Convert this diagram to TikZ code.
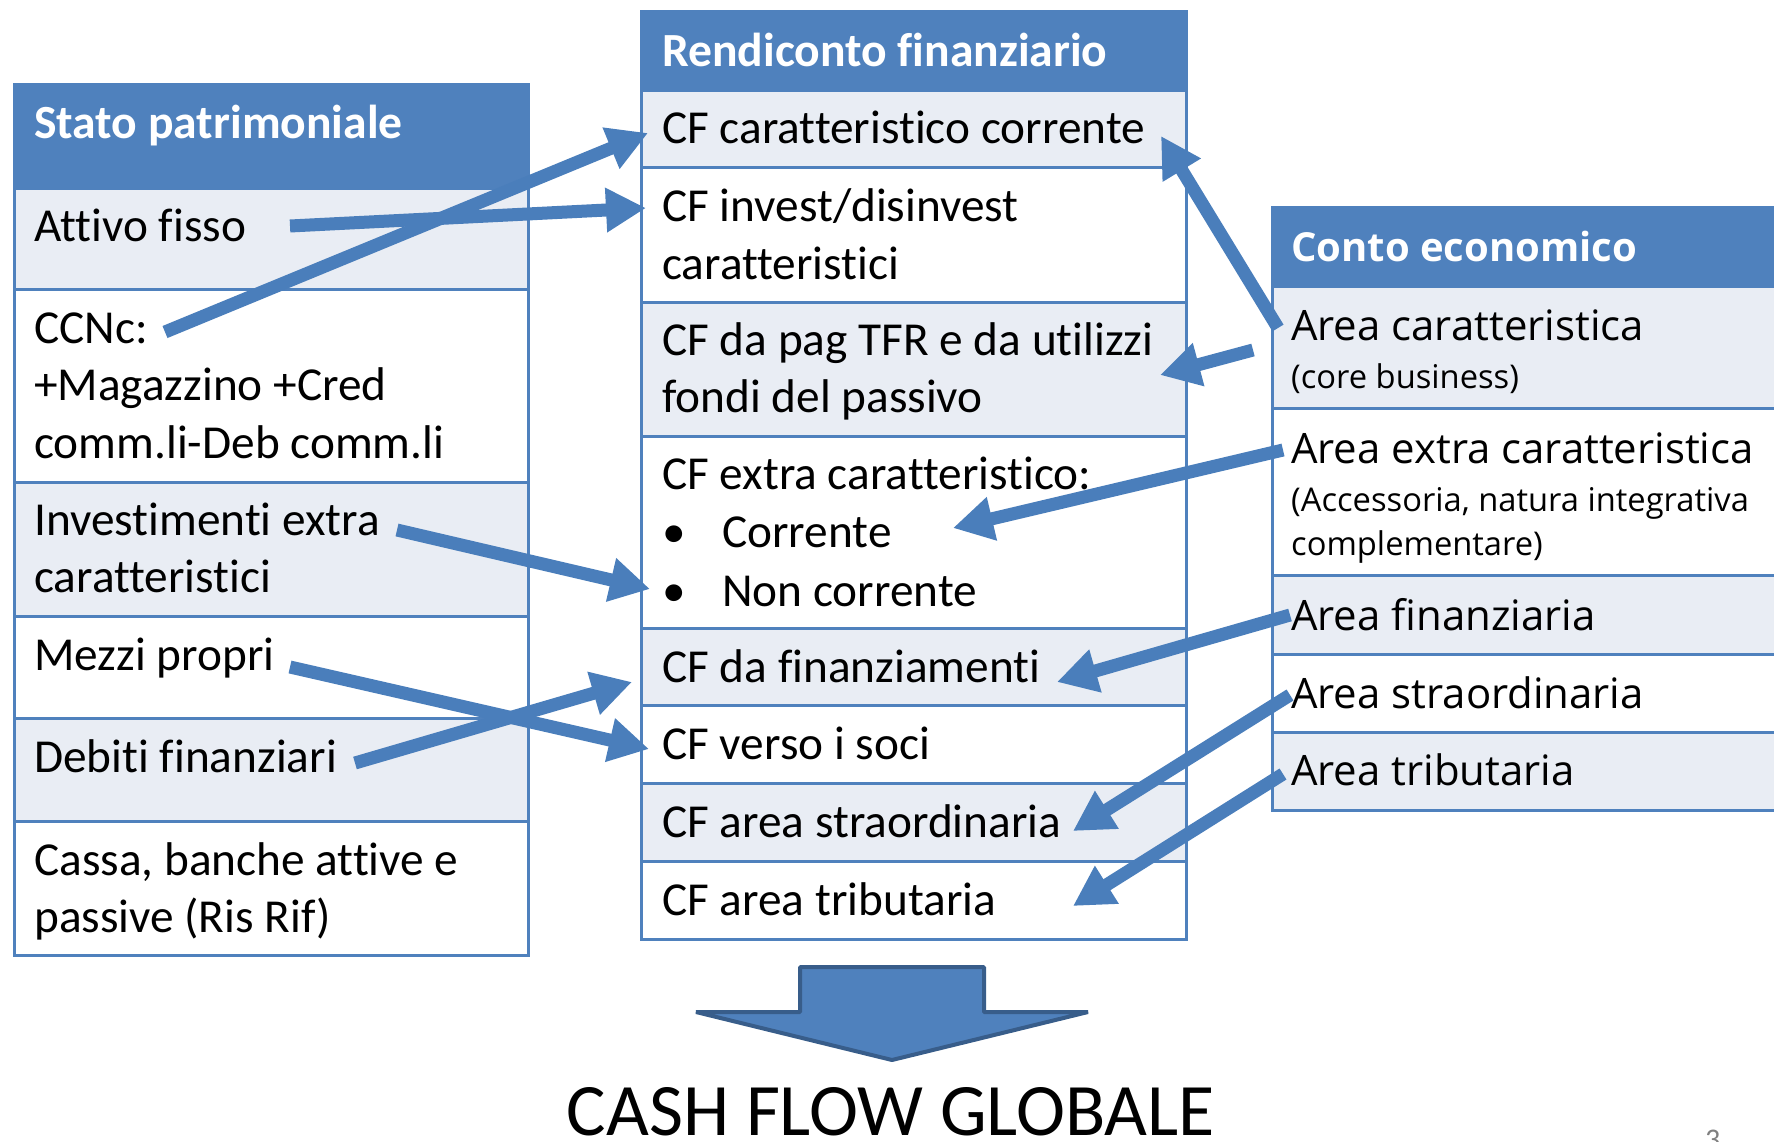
\documentclass[tikz,border=0pt]{standalone}
\usepackage{fontspec}
\setmainfont{Carlito}[Ligatures=NoCommon]
\newfontfamily\osans{Open Sans}
\usetikzlibrary{arrows.meta}
\definecolor{hdr}{HTML}{4F81BD}
\definecolor{band}{HTML}{E9EDF4}
\definecolor{arrc}{HTML}{4A7EBB}
\definecolor{bigedge}{HTML}{385D8A}
\newcommand\mlines[1]{\begin{tabular}[t]{@{}l@{}}#1\end{tabular}}
\newcommand\bul{\makebox[60pt][l]{•}}
\tikzset{
  cell/.style={draw=hdr, line width=3pt},
  hcell/.style={cell, fill=hdr},
  lcell/.style={cell, fill=band},
  wcell/.style={cell, fill=white},
  txt/.style={anchor=base west, inner sep=0pt, font=\fontsize{47.3}{57.5}\selectfont},
  htxt/.style={anchor=base west, inner sep=0pt, text=white, font=\fontsize{47.6}{57.5}\selectfont\bfseries},
  rtxt/.style={anchor=base west, inner sep=0pt, font=\osans\fontsize{41.9}{50}\selectfont},
  rhtxt/.style={anchor=base west, inner sep=0pt, text=white, font=\osans\fontsize{40}{50}\selectfont\bfseries},
  rsmall/.style={anchor=base west, inner sep=0pt, font=\osans\fontsize{32.7}{44}\selectfont},
  flow/.style={draw=arrc, line width=13pt, -{Triangle[length=40pt,width=42pt]}},
}
\begin{document}
\begin{tikzpicture}[x=1pt,y=-1pt]
\useasboundingbox (0,0) rectangle (1774,1141);
% ---------- left table
\path[hcell] (14,84) rectangle (528,188);
\path[lcell] (14,188) rectangle (528,289);
\path[wcell] (14,289) rectangle (528,482);
\path[lcell] (14,482) rectangle (528,616);
\path[wcell] (14,616) rectangle (528,718);
\path[lcell] (14,718) rectangle (528,821);
\path[wcell] (14,821) rectangle (528,955);
\node[htxt] (sp) at (34,138) {Stato patrimoniale};
\node[txt] (af) at (34,241) {Attivo fisso};
\node[txt] (ccnc) at (34,343) {\mlines{CCNc:\\+Magazzino +Cred\\comm.li-Deb comm.li}};
\node[txt] (inv) at (34,535) {\mlines{Investimenti extra\\caratteristici}};
\node[txt] (mp) at (34,670) {Mezzi propri};
\node[txt] (df) at (34,772) {Debiti finanziari};
\node[txt] (cassa) at (34,875) {\mlines{Cassa, banche attive e\\passive (Ris Rif)}};
% ---------- middle table
\path[hcell] (641.5,11) rectangle (1186,90);
\path[lcell] (641.5,90) rectangle (1186,167);
\path[wcell] (641.5,167) rectangle (1186,302);
\path[lcell] (641.5,302) rectangle (1186,436);
\path[wcell] (641.5,436) rectangle (1186,628);
\path[lcell] (641.5,628) rectangle (1186,705.5);
\path[wcell] (641.5,705.5) rectangle (1186,783);
\path[lcell] (641.5,783) rectangle (1186,861);
\path[wcell] (641.5,861) rectangle (1186,939);
\node[htxt] (rf) at (662,66) {Rendiconto finanziario};
\node[txt] (cfcar) at (662,143.5) {CF caratteristico corrente};
\node[txt] (cfinv) at (662,221.5) {\mlines{CF invest/disinvest\\caratteristici}};
\node[txt] (cftfr) at (662,355) {\mlines{CF da pag TFR e da utilizzi\\fondi del passivo}};
\node[txt, font=\fontsize{47.3}{58.5}\selectfont] (cfext) at (662,489) {\mlines{CF extra caratteristico:\\\bul Corrente\\\bul Non corrente}};
\node[txt] (cffin) at (662,682) {CF da finanziamenti};
\node[txt] (cfsoci) at (662,759.5) {CF verso i soci};
\node[txt] (cfstr) at (662,837.5) {CF area straordinaria};
\node[txt] (cftrib) at (662,915) {CF area tributaria};
% ---------- right table
\path[hcell] (1272,207) rectangle (1800,286);
\path[lcell] (1272,286) rectangle (1800,408);
\path[wcell] (1272,408) rectangle (1800,575);
\path[lcell] (1272,575) rectangle (1800,654);
\path[wcell] (1272,654) rectangle (1800,732);
\path[lcell] (1272,732) rectangle (1800,810);
\node[rhtxt] (ce) at (1291,261) {Conto economico};
\node[rtxt] (acar) at (1291,340.5) {Area caratteristica};
\node[rsmall] (acar2) at (1291,388.5) {(core business)};
\node[rtxt] (aext) at (1291,463.5) {Area extra caratteristica};
\node[rsmall] (aext2) at (1291,511) {(Accessoria, natura integrativa};
\node[rsmall] (aext3) at (1291,555) {complementare)};
\node[rtxt] (afin) at (1291,630) {Area finanziaria};
\node[rtxt] (astr) at (1291,708.5) {Area straordinaria};
\node[rtxt] (atrib) at (1291,785) {Area tributaria};
% ---------- arrow end points
\coordinate (t1) at (165,332);  \coordinate (h1) at (648,133);
\coordinate (t2) at (290,226);  \coordinate (h2) at (646,208);
\coordinate (t3) at (397,530);  \coordinate (h3) at (650,589);
\coordinate (t4) at (290,667);  \coordinate (h4) at (649,749);
\coordinate (t5) at (355,763);  \coordinate (h5) at (632,682);
\coordinate (t6) at (1278,328); \coordinate (h6) at (1161,136);
\coordinate (t7) at (1253,350); \coordinate (h7) at (1160,375);
\coordinate (t8) at (1283,450); \coordinate (h8) at (953,528);
\coordinate (t9) at (1290,615); \coordinate (h9) at (1057,682);
\coordinate (t10) at (1290,695); \coordinate (h10) at (1073,831);
\coordinate (t11) at (1283,774); \coordinate (h11) at (1073,906);
\foreach \i in {1,...,11} {\draw[flow] (t\i) -- (h\i);}
% ---------- big arrow
\path[fill=hdr, draw=bigedge, line width=4pt, line join=bevel]
  (800,967) -- (984,967) -- (984,1012) -- (1088,1012) -- (892,1060)
  -- (696,1012) -- (800,1012) -- cycle;
\node[anchor=base, inner sep=0pt, font=\fontsize{74}{80}\selectfont] (cfg) at (891,1135) {CASH FLOW GLOBALE};
\node[anchor=north west, inner sep=0pt, text=gray, font=\fontsize{30}{34}\selectfont] (pg) at (1705,1130) {3};
\end{tikzpicture}
\end{document}
